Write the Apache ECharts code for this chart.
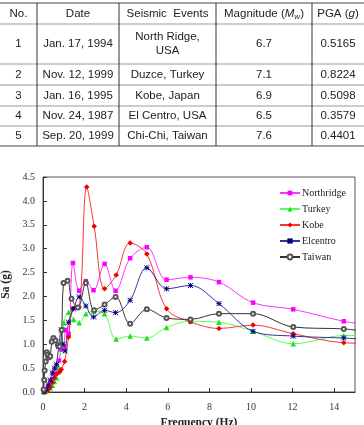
<!DOCTYPE html>
<html>
<head>
<meta charset="utf-8">
<script src="https://cdn.jsdelivr.net/npm/echarts@6/dist/echarts.min.js"></script>
<style>
  html, body { margin: 0; padding: 0; background: #fff; }
  #chart { width: 364px; height: 425px; }
</style>
</head>
<body>
<div id="chart"></div>
<script>
// table data
const tableHeader = ['No.', 'Date', 'Seismic  Events', '{t|Magnitude (}{i|M}{s|w}{t|)}', '{t|PGA (}{i|g}{t|)}']
const tableRows = [
  ['1', 'Jan. 17, 1994', 'North Ridge,\nUSA', '6.7', '0.5165'],
  ['2', 'Nov. 12, 1999', 'Duzce, Turkey', '7.1', '0.8224'],
  ['3', 'Jan. 16, 1995', 'Kobe, Japan', '6.9', '0.5098'],
  ['4', 'Nov. 24, 1987', 'El Centro, USA', '6.5', '0.3579'],
  ['5', 'Sep. 20, 1999', 'Chi-Chi, Taiwan', '7.6', '0.4401']
]

// spectra [frequency Hz, Sa g]
const seriesNames = ['Northridge', 'Turkey', 'Kobe', 'Elcentro', 'Taiwan']
const northridge = [
  [0.05, 0.01], [0.15, 0.04], [0.25, 0.1], [0.35, 0.18], [0.45, 0.27], [0.55, 0.38], [0.65, 0.5],
  [0.77, 0.66], [0.88, 0.89], [1.0, 0.95], [1.1, 1.3], [1.23, 1.22], [1.44, 2.7], [1.74, 2.12],
  [2.06, 2.32], [2.43, 2.13], [2.96, 2.68], [3.49, 2.12], [4.19, 2.8], [4.99, 3.03], [5.94, 2.35],
  [7.09, 2.4], [8.46, 2.3], [10.1, 1.87], [12.03, 1.73], [14.46, 1.48], [15.5, 1.42]
]
const turkey = [
  [0.05, 0.0], [0.15, 0.02], [0.25, 0.05], [0.35, 0.09], [0.45, 0.14], [0.55, 0.22], [0.65, 0.3],
  [0.74, 0.53], [0.88, 0.97], [1.0, 1.45], [1.23, 1.67], [1.47, 1.52], [1.74, 1.45], [2.06, 1.64],
  [2.43, 1.69], [2.96, 1.64], [3.52, 1.11], [4.19, 1.17], [4.99, 1.13], [5.94, 1.35], [7.09, 1.48],
  [8.46, 1.46], [10.1, 1.27], [12.03, 1.01], [14.46, 1.18], [15.5, 1.18]
]
const kobe = [
  [0.05, 0.0], [0.15, 0.02], [0.25, 0.05], [0.35, 0.1], [0.45, 0.2], [0.55, 0.3], [0.67, 0.38],
  [0.8, 0.42], [0.88, 0.47], [1.04, 0.64], [1.23, 1.15], [1.44, 1.75], [1.74, 1.78], [2.1, 4.29],
  [2.46, 3.47], [2.96, 2.16], [3.52, 2.45], [4.19, 3.12], [4.99, 2.89], [5.94, 1.74], [7.09, 1.47],
  [8.46, 1.33], [10.1, 1.4], [12.03, 1.22], [14.46, 1.03], [15.5, 1.02]
]
const elcentro = [
  [0.05, 0.01], [0.15, 0.06], [0.25, 0.15], [0.35, 0.25], [0.45, 0.4], [0.55, 0.5], [0.65, 0.58],
  [0.75, 0.95], [0.88, 1.3], [0.96, 1.0], [1.06, 0.86], [1.23, 1.46], [1.47, 1.74], [1.74, 1.99],
  [2.06, 1.8], [2.43, 1.57], [2.96, 1.71], [3.49, 1.66], [4.19, 1.92], [4.99, 2.6], [5.94, 2.16],
  [7.09, 2.23], [8.46, 1.85], [10.1, 1.27], [12.03, 1.17], [14.46, 1.13], [15.5, 1.1]
]
const taiwan = [
  [0.03, 0.05], [0.06, 0.25], [0.08, 0.45], [0.13, 0.64], [0.18, 0.83], [0.22, 0.78], [0.28, 0.72],
  [0.35, 0.75], [0.42, 1.05], [0.5, 1.13], [0.6, 1.08], [0.72, 0.98], [0.8, 0.95], [0.9, 1.3],
  [0.99, 2.28], [1.18, 2.33], [1.37, 1.95], [1.68, 1.77], [2.06, 2.28], [2.46, 1.71], [2.96, 1.83],
  [3.49, 1.99], [4.19, 1.43], [4.99, 1.73], [5.94, 1.55], [7.09, 1.52], [8.46, 1.64], [10.1, 1.64],
  [12.03, 1.36], [14.46, 1.32], [15.5, 1.27]
]

const chart = echarts.init(document.getElementById('chart'), null, { renderer: 'canvas' })

// table drawn with graphic elements
const colX = [0, 37, 119, 216, 312, 364]
const rowY = [3, 24, 64, 85, 106, 126, 146]
const tableFont = '11.5px "Liberation Sans", Arial, sans-serif'
const graphics = []
for (let i = 0; i < rowY.length; i++) {
  graphics.push({
    type: 'line',
    shape: { x1: 0, y1: rowY[i], x2: 364, y2: rowY[i] },
    style: { stroke: i === 0 || i === rowY.length - 1 ? '#444' : '#999', lineWidth: 1 }
  })
}
for (let j = 1; j < colX.length - 1; j++) {
  graphics.push({
    type: 'line',
    shape: { x1: colX[j], y1: rowY[0], x2: colX[j], y2: rowY[rowY.length - 1] },
    style: { stroke: '#333', lineWidth: 1 }
  })
}
const rich = {
  t: { font: tableFont, fill: '#222' },
  i: { font: 'italic ' + tableFont, fill: '#222' },
  s: { font: 'italic 8px "Liberation Sans", Arial, sans-serif', fill: '#222', verticalAlign: 'bottom', padding: [4, 0, 0, 0] }
}
const allRows = [tableHeader].concat(tableRows)
allRows.forEach((row, r) => {
  row.forEach((txt, c) => {
    graphics.push({
      type: 'text',
      x: (colX[c] + colX[c + 1]) / 2,
      y: (rowY[r] + rowY[r + 1]) / 2,
      style: {
        text: txt, font: tableFont, fill: '#222', align: 'center', verticalAlign: 'middle',
        lineHeight: 14, rich: rich
      }
    })
  })
})

const serif = '"Liberation Serif", "Times New Roman", serif'
const asterisk = 'path://M0,0L10,10M10,0L0,10M5,0L5,10M0,5L10,5'

const option = {
  animation: false,
  graphic: graphics,
  grid: {
    left: 43, top: 177, width: 312, height: 215, show: true,
    borderColor: '#555', borderWidth: 1, containLabel: false, outerBoundsMode: 'none'
  },
  legend: {
    orient: 'vertical',
    left: 279,
    top: 187,
    padding: 0,
    itemWidth: 20,
    itemHeight: 6,
    itemGap: 4,
    textStyle: { fontFamily: serif, fontSize: 10, color: '#222', lineHeight: 12, padding: [0, 0, 0, -3] },
    data: seriesNames.map(n => n === 'Taiwan'
      ? { name: n, itemStyle: { borderWidth: 1 } }
      : { name: n })
  },
  xAxis: {
    type: 'value', min: 0, max: 15, interval: 2,
    name: 'Frequency (Hz)', nameLocation: 'middle', nameGap: 22,
    nameTextStyle: { fontFamily: serif, fontSize: 11.5, fontWeight: 'bold', color: '#222' },
    axisLine: { lineStyle: { color: '#333' } },
    axisTick: { inside: true, length: 4, lineStyle: { color: '#333' } },
    axisLabel: { fontFamily: serif, fontSize: 10, color: '#333', margin: 10, showMaxLabel: false },
    splitLine: { show: false }
  },
  yAxis: {
    type: 'value', min: 0, max: 4.5, interval: 0.5,
    name: 'Sa (g)', nameLocation: 'middle', nameGap: 29, nameRotate: 90,
    nameTextStyle: { fontFamily: serif, fontSize: 11.5, fontWeight: 'bold', color: '#222' },
    axisLine: { show: true, lineStyle: { color: '#333' } },
    axisTick: { show: true, inside: true, length: 4, lineStyle: { color: '#333' } },
    axisLabel: { fontFamily: serif, fontSize: 10, color: '#333', margin: 8, formatter: v => v.toFixed(1) },
    splitLine: { show: false }
  },
  series: [
    {
      name: 'Northridge', type: 'line', data: northridge, smooth: 0.35,
      symbol: 'rect', symbolSize: 4.5,
      lineStyle: { color: '#FF33FF', width: 1 },
      itemStyle: { color: '#FF00FF' }
    },
    {
      name: 'Turkey', type: 'line', data: turkey, smooth: 0.35,
      symbol: 'triangle', symbolSize: 5.5,
      lineStyle: { color: '#55FF55', width: 1 },
      itemStyle: { color: '#22DD22' }
    },
    {
      name: 'Kobe', type: 'line', data: kobe, smooth: 0.35,
      symbol: 'diamond', symbolSize: 5.5,
      lineStyle: { color: '#FF3333', width: 1 },
      itemStyle: { color: '#EE0000' }
    },
    {
      name: 'Elcentro', type: 'line', data: elcentro, smooth: 0.35,
      symbol: asterisk, symbolSize: 5,
      lineStyle: { color: '#333399', width: 1 },
      itemStyle: { color: '#000080', borderColor: '#000080', borderWidth: 1 }
    },
    {
      name: 'Taiwan', type: 'line', data: taiwan, smooth: 0.35,
      symbol: 'emptyCircle', symbolSize: 4,
      lineStyle: { color: '#333333', width: 1 },
      itemStyle: { color: '#555555', borderWidth: 1 }
    }
  ]
}

chart.setOption(option)
</script>
</body>
</html>
